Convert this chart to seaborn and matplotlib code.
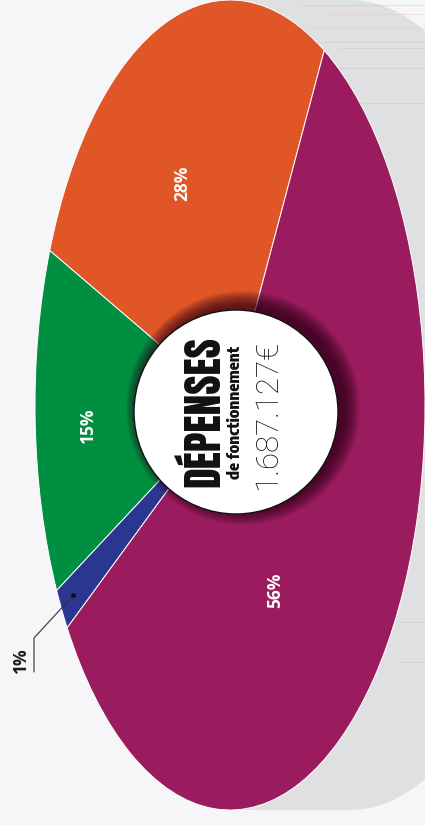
import numpy as np
import matplotlib
matplotlib.use("Agg")
import matplotlib.pyplot as plt
import seaborn as sns
from matplotlib import font_manager
from matplotlib.patches import Ellipse, Rectangle

# ---------------- data ----------------
slice_labels = ["28%", "15%", "1%", "56%"]          # orange, green, blue, purple
slice_shares = [26.8, 13.8, 1.7, 57.7]               # shares as drawn in the picture
slice_colors = ["#e15626", "#008f40", "#2b3690", "#9b1c5e"]
title_main = "DÉPENSES"
title_sub = "de fonctionnement"
title_amount = "1.687.127€"

# ---------------- style ----------------
sns.set_theme(style="white")
names = {f.name for f in font_manager.fontManager.ttflist}


def pick(*cands):
    for c in cands:
        if c in names:
            return c
    return "DejaVu Sans"


f_main = pick("Anton", "Fjalla One", "League Gothic", "Oswald")
f_sub = pick("Encode Sans Condensed", "IBM Plex Sans Condensed", "Oswald")
f_amount = pick("Roboto", "Open Sans")
plt.rcParams["font.family"] = ["Open Sans", "DejaVu Sans"]

W, H = 425, 825
BG = "#f6f6f9"
fig = plt.figure(figsize=(W / 100, H / 100), dpi=100, facecolor=BG)
ax = fig.add_axes([0, 0, 1, 1])
ax.set_facecolor(BG)

# pixel geometry of the elliptical pie
CX, CY, A, B = 230, 405, 195, 405


def px(x, y):
    return ((x - CX) / A, (CY - y) / B)


# grey extruded "shadow" of the pie on the right
shift = 120 / A
shadow_col = "#dfe0e2"
ax.add_patch(Ellipse((shift, 0), 2, 2, fc=shadow_col, ec="none", zorder=1))
ax.add_patch(Rectangle((0, -1), shift, 2, fc=shadow_col, ec="none", zorder=1))
# faint print streaks in the shadow
for yy, x0, c in [(5, 300, "#e8b8a8"), (14, 330, "#e6c0b2"), (28, 310, "#e4c4b8"),
                  (42, 290, "#e2b9a8"), (48, 340, "#d9b9c6"), (68, 330, "#d9bccb"),
                  (103, 360, "#d6b6c6"), (622, 400, "#d6b6c6"), (662, 400, "#d6b6c6")]:
    a0 = px(x0, yy)
    a1 = px(W, yy)
    ax.plot([a0[0], a1[0]], [a0[1], a1[1]], color=c, lw=0.6, alpha=0.5, zorder=1.5)

wedges, _ = ax.pie(
    slice_shares,
    colors=sns.color_palette(slice_colors),
    startangle=61.1,
    counterclock=True,
    radius=1,
    center=(0, 0),
    wedgeprops=dict(edgecolor="white", linewidth=0.7),
)
for w in wedges:
    w.set_zorder(2)

ax.set_xlim(-CX / A, (W - CX) / A)
ax.set_ylim((CY - H) / B, CY / B)
ax.set_aspect("auto")
ax.axis("off")

# percentage labels
label_pos = {"28%": (182, 183), "15%": (88, 425), "56%": (275, 590), "1%": (21, 660)}
for lab in slice_labels:
    x, y = px(*label_pos[lab])
    col = "#1a1a1a" if lab == "1%" else "white"
    ax.text(x, y, lab, rotation=90, ha="center", va="center", color=col,
            fontsize=12.5, fontweight="bold", zorder=6)

# leader line for the small slice
wb = wedges[2]
mid = np.deg2rad((wb.theta1 + wb.theta2) / 2)
sx, sy = 0.93 * np.cos(mid), 0.93 * np.sin(mid)
p1 = px(34, 638)
p2 = px(34, 672)
ax.plot([sx, p1[0], p2[0]], [sy, p1[1], p2[1]], color="#333333", lw=0.8, zorder=6)
ax.plot([sx], [sy], "o", color="#111111", ms=2.5, zorder=6)

# central disc with soft dark shadow
R = 102
cc = px(236, 412)
so = px(236 + 7, 412 - 4)
for k in range(16):
    r = R + k
    ax.add_patch(Ellipse(so, 2 * r / A, 2 * r / B, fc="#2a0016", ec="none",
                         alpha=0.07, zorder=4))
ax.add_patch(Ellipse(cc, 2 * R / A, 2 * R / B, fc="white", ec="#111111", lw=1.0, zorder=5))

# central texts
tx, ty = px(201, 412)
ax.text(tx, ty, title_main, rotation=90, ha="center", va="center", color="#111111",
        fontsize=30, family=[f_main, "DejaVu Sans"], zorder=6)
tx, ty = px(236, 412)
ax.text(tx, ty, title_sub, rotation=90, ha="center", va="center", color="#111111",
        fontsize=12, fontweight=800, family=[f_sub, "DejaVu Sans"], zorder=6)
tx, ty = px(268, 415)
ax.text(tx, ty, title_amount, rotation=90, ha="center", va="center", color="#111111",
        fontsize=22.5, fontweight="light", family=[f_amount, "DejaVu Sans"], zorder=6)

fig.savefig("out.png", dpi=100, facecolor=fig.get_facecolor())
